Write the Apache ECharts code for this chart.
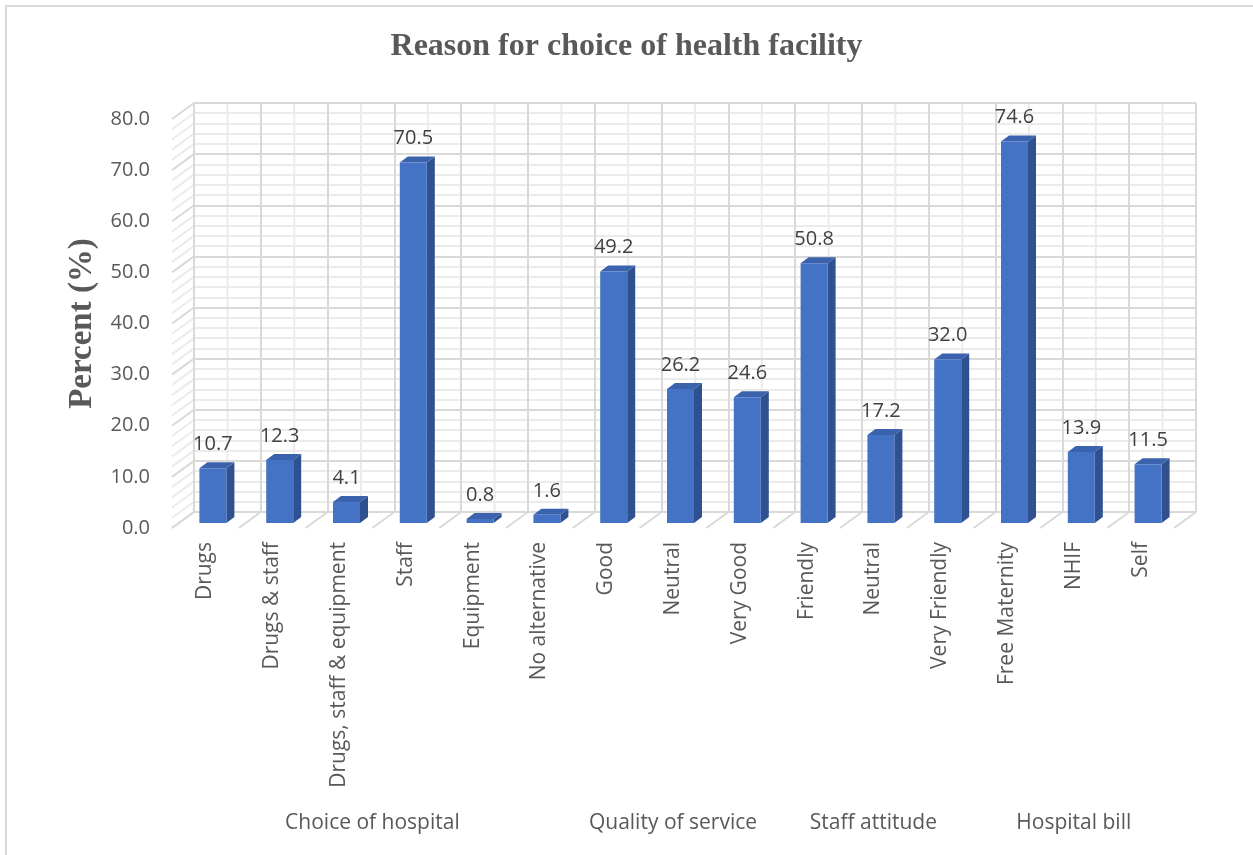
<!DOCTYPE html>
<html>
<head>
<meta charset="utf-8">
<title>Reason for choice of health facility</title>
<script src="https://cdn.jsdelivr.net/npm/echarts@6/dist/echarts.min.js"></script>
<style>
  html, body { margin: 0; padding: 0; background: #fff; }
  #main { width: 1253px; height: 855px; }
</style>
</head>
<body>
<div id="main"></div>
<script>
// categories and values
var categories = ['Drugs', 'Drugs & staff', 'Drugs, staff & equipment', 'Staff', 'Equipment', 'No alternative',
  'Good', 'Neutral', 'Very Good', 'Friendly', 'Neutral', 'Very Friendly', 'Free Maternity', 'NHIF', 'Self'];
var percents = [10.7, 12.3, 4.1, 70.5, 0.8, 1.6, 49.2, 26.2, 24.6, 50.8, 17.2, 32.0, 74.6, 13.9, 11.5];
var groupNames = ['Choice of hospital', 'Quality of service', 'Staff attitude', 'Hospital bill'];
var groupFirst = [0, 6, 9, 12];
var groupLast = [5, 8, 11, 14];
var yTicks = [0, 10, 20, 30, 40, 50, 60, 70, 80];

var chart = echarts.init(document.getElementById('main'));

var GRAY = '#595959';
var LINE = '#D9D9D9';
var MINOR = '#EBEBEB';
var FONT = '"Open Sans", "Noto Sans", sans-serif';
var SERIF = '"Liberation Serif", "Times New Roman", serif';
// 3d look: the front plane sits down-left of the back wall
var WALL_DX = -22, WALL_DY = 16;
var BAR_DX = -28, BAR_DY = 11, BAR_W = 27, DEPTH_X = 8, DEPTH_Y = -6;

function line(x1, y1, x2, y2, color) {
  return { type: 'line', shape: { x1: x1, y1: y1, x2: x2, y2: y2 }, style: { stroke: color, lineWidth: 2 } };
}

// side wall, floor and the light verticals of the back wall
function renderFrame(params, api) {
  var children = [];
  var bw = api.size([1, 0])[0];
  var n = categories.length;
  var step = (yTicks[1] - yTicks[0]) / 5;
  for (var v = 0; v <= yTicks[yTicks.length - 1] + 0.001; v += step) {
    var p = api.coord([0, v]);
    var x = p[0] - bw / 2;
    var major = Math.abs(v / 10 - Math.round(v / 10)) < 0.001;
    children.push(line(x, p[1], x + WALL_DX, p[1] + WALL_DY, major ? LINE : MINOR));
  }
  for (var i = 0; i < n; i++) {
    var top = api.coord([i, 80]), bot = api.coord([i, 0]);
    children.push(line(top[0], top[1], bot[0], bot[1], MINOR));
  }
  for (var k = 0; k <= n; k++) {
    var b = api.coord([0, 0]);
    var xb = b[0] - bw / 2 + k * bw;
    children.push(line(xb, b[1], xb + WALL_DX, b[1] + WALL_DY, LINE));
  }
  return { type: 'group', children: children };
}

function renderBar(params, api) {
  var i = api.value(0), v = api.value(1);
  var p = api.coord([i, v]);
  var p0 = api.coord([i, 0]);
  var x = p[0] + BAR_DX;
  var top = p[1] + BAR_DY;
  var bottom = p0[1] + BAR_DY;
  return {
    type: 'group',
    children: [
      { type: 'polygon', shape: { points: [[x + BAR_W, top], [x + BAR_W + DEPTH_X, top + DEPTH_Y],
          [x + BAR_W + DEPTH_X, bottom + DEPTH_Y], [x + BAR_W, bottom]] }, style: { fill: '#2F5190' } },
      { type: 'polygon', shape: { points: [[x, top], [x + DEPTH_X, top + DEPTH_Y],
          [x + BAR_W + DEPTH_X, top + DEPTH_Y], [x + BAR_W, top]] }, style: { fill: '#3A62AD' } },
      { type: 'rect', shape: { x: x, y: top, width: BAR_W, height: bottom - top }, style: { fill: '#4472C4' } },
      { type: 'text', x: x + BAR_W / 2, y: top - 24,
        style: { text: v.toFixed(1), fill: '#404040', font: '20px ' + FONT, align: 'center', verticalAlign: 'middle' } }
    ]
  };
}

function renderGroup(params, api) {
  var a = api.coord([api.value(0), 0]);
  var b = api.coord([api.value(1), 0]);
  return {
    type: 'text', x: (a[0] + b[0]) / 2, y: a[1] + 295,
    style: { text: groupNames[params.dataIndex], fill: GRAY, font: '21px ' + FONT, align: 'center', verticalAlign: 'middle' }
  };
}

var option = {
  backgroundColor: '#fff',
  animation: false,
  title: {
    text: 'Reason for choice of health facility',
    left: 'center',
    top: 26,
    textStyle: { fontFamily: SERIF, fontWeight: 'bold', fontSize: 32, color: GRAY }
  },
  graphic: [{
    type: 'rect', shape: { x: 6, y: 6, width: 1260, height: 870 },
    style: { fill: 'none', stroke: LINE, lineWidth: 2 }, silent: true
  }],
  grid: [
    { left: 194, top: 103, width: 1002, height: 409 },
    { left: 194 + WALL_DX, top: 103 + WALL_DY, width: 1002, height: 409 }
  ],
  xAxis: [
    { gridIndex: 0, type: 'category', data: categories, axisLine: { show: false }, axisTick: { show: false },
      axisLabel: { show: false }, splitLine: { show: true, interval: 0, lineStyle: { color: LINE, width: 2 } } },
    { gridIndex: 1, type: 'category', data: categories, axisLine: { show: false }, axisTick: { show: false },
      splitLine: { show: false },
      axisLabel: { interval: 0, rotate: 90, margin: 14, color: GRAY, fontSize: 21, fontFamily: FONT } }
  ],
  yAxis: [
    { gridIndex: 0, type: 'value', min: 0, max: 80, interval: 10, axisLine: { show: false }, axisTick: { show: false },
      axisLabel: { show: false },
      splitLine: { lineStyle: { color: LINE, width: 2 } },
      minorTick: { show: false, splitNumber: 5 },
      minorSplitLine: { show: true, lineStyle: { color: MINOR, width: 2 } } },
    { gridIndex: 1, type: 'value', min: 0, max: 80, interval: 10, axisLine: { show: false }, axisTick: { show: false },
      splitLine: { show: false },
      axisLabel: { margin: 22, color: GRAY, fontSize: 20, fontFamily: FONT, formatter: function (v) { return v.toFixed(1); } },
      name: 'Percent (%)', nameLocation: 'middle', nameRotate: 90, nameGap: 73,
      nameTextStyle: { fontFamily: SERIF, fontWeight: 'bold', fontSize: 33, color: GRAY } }
  ],
  series: [
    { type: 'custom', name: 'frame', xAxisIndex: 0, yAxisIndex: 0, z: -1, silent: true,
      data: [[0, 0]], renderItem: renderFrame },
    { type: 'custom', name: 'Percent', xAxisIndex: 0, yAxisIndex: 0, clip: false,
      data: percents.map(function (v, i) { return [i, v]; }), renderItem: renderBar },
    { type: 'custom', name: 'groups', xAxisIndex: 1, yAxisIndex: 1, clip: false,
      data: groupFirst.map(function (s, i) { return [s, groupLast[i]]; }), renderItem: renderGroup }
  ]
};

chart.setOption(option);
</script>
</body>
</html>
